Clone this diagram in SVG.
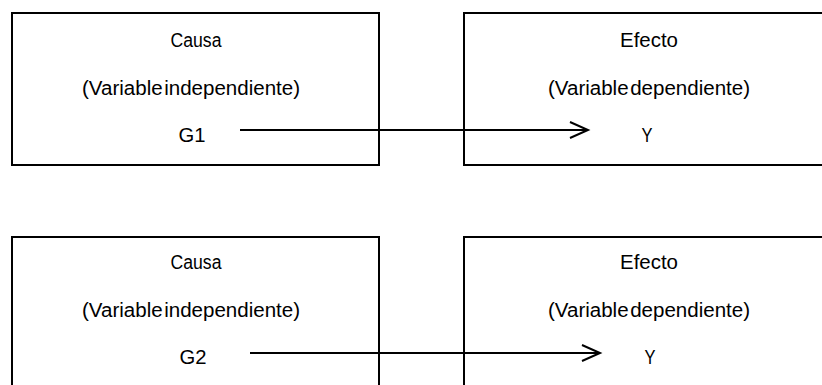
<svg xmlns="http://www.w3.org/2000/svg" width="822" height="385" viewBox="0 0 822 385">
<style>
.box{fill:#fff;stroke:#000;stroke-width:2}
.t{font-family:"Liberation Sans",Arial,sans-serif;font-size:20px;fill:#000;text-anchor:middle}
.c{stroke:#000;stroke-width:2;fill:none}
</style>
<defs>
<marker id="ah" markerUnits="userSpaceOnUse" markerWidth="24" markerHeight="20" refX="19" refY="9" orient="auto" viewBox="0 0 24 20">
<path d="M1 1 L19 9 L1 17" fill="none" stroke="#000" stroke-width="2"/>
</marker>
</defs>
<rect width="822" height="385" fill="#fff"/>
<g id="causa1">
<rect class="box" x="12" y="13" width="367" height="152"/>
<text class="t" x="196" y="47" textLength="51" lengthAdjust="spacingAndGlyphs">Causa</text>
<text class="t" x="191" y="95" textLength="218" lengthAdjust="spacingAndGlyphs" word-spacing="-4">(Variable independiente)</text>
<text class="t" x="192" y="142" textLength="27" lengthAdjust="spacingAndGlyphs">G1</text>
</g>
<g id="efecto1">
<rect class="box" x="464" y="13" width="370" height="152"/>
<text class="t" x="649" y="47" textLength="58" lengthAdjust="spacingAndGlyphs">Efecto</text>
<text class="t" x="649" y="95" textLength="202" lengthAdjust="spacingAndGlyphs" word-spacing="-4">(Variable dependiente)</text>
<text class="t" x="647" y="142" textLength="11" lengthAdjust="spacingAndGlyphs">Y</text>
</g>
<g id="causa2">
<rect class="box" x="12" y="237" width="367" height="170"/>
<text class="t" x="196" y="269" textLength="51" lengthAdjust="spacingAndGlyphs">Causa</text>
<text class="t" x="191" y="317" textLength="218" lengthAdjust="spacingAndGlyphs" word-spacing="-4">(Variable independiente)</text>
<text class="t" x="193" y="364" textLength="27" lengthAdjust="spacingAndGlyphs">G2</text>
</g>
<g id="efecto2">
<rect class="box" x="464" y="237" width="370" height="170"/>
<text class="t" x="649" y="269" textLength="58" lengthAdjust="spacingAndGlyphs">Efecto</text>
<text class="t" x="649" y="317" textLength="202" lengthAdjust="spacingAndGlyphs" word-spacing="-4">(Variable dependiente)</text>
<text class="t" x="650" y="364" textLength="11" lengthAdjust="spacingAndGlyphs">Y</text>
</g>
<g id="connectors">
<line class="c" x1="240" y1="130" x2="588" y2="130" marker-end="url(#ah)"/>
<line class="c" x1="250" y1="353" x2="600" y2="353" marker-end="url(#ah)"/>
</g>
</svg>
